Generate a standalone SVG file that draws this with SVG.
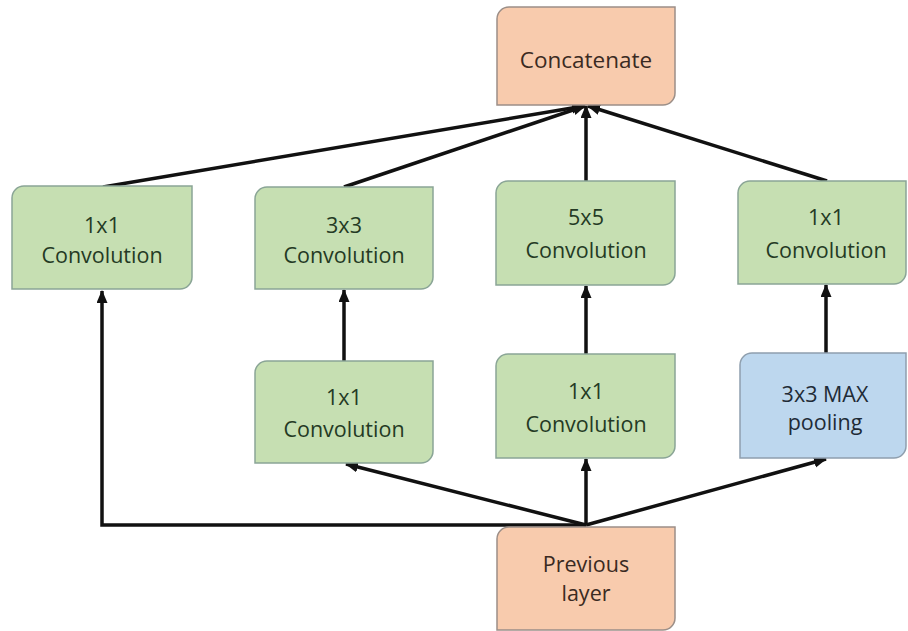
<svg xmlns="http://www.w3.org/2000/svg" width="908" height="631" viewBox="0 0 908 631">
<defs>
<style>
.box{stroke-width:1.5}
.g{fill:#c6dfb2;stroke:#8aa596}
.o{fill:#f8cbad;stroke:#9c8f88}
.b{fill:#bdd7ee;stroke:#8f9fae}
text{font-family:"Open Sans","Liberation Sans",sans-serif;font-size:21.5px;text-anchor:middle}
.tg{fill:#243a24}
.to{fill:#3a2a22}
.tb{fill:#1f2b36}
.c{fill:none;stroke:#111;stroke-width:3.5;marker-end:url(#ah)}
</style>
<marker id="ah" markerUnits="userSpaceOnUse" markerWidth="14" markerHeight="12" refX="12" refY="5.5" orient="auto">
<path d="M0,0 L13,5.5 L0,11 Z" fill="#111"/>
</marker>
</defs>
<rect width="908" height="631" fill="#ffffff"/>
<g id="connectors">
<path class="c" d="M586,525 H102 V291"/>
<path class="c" d="M586,525 L346,464"/>
<path class="c" d="M586,525 V459"/>
<path class="c" d="M586,525 L826,459"/>
<path class="c" d="M344,361 V290"/>
<path class="c" d="M586,354 V286"/>
<path class="c" d="M826,353 V285"/>
<path class="c" d="M103,187 L584,106"/>
<path class="c" d="M344,187 L585,106"/>
<path class="c" d="M586,181 V106"/>
<path class="c" d="M827,181 L588,106"/>
</g>
<g id="concat">
<path class="box o" d="M511,7 H675 V93 A12,12 0 0 1 663,105 H497 V19 A12,12 0 0 1 509,7 Z"/>
<text class="to" x="586" y="68" style="font-size:22.5px">Concatenate</text>
</g>
<g id="conv1x1_a">
<path class="box g" d="M24,186 H192 V277 A12,12 0 0 1 180,289 H12 V198 A12,12 0 0 1 24,186 Z"/>
<text class="tg" x="102" y="233">1x1</text>
<text class="tg" x="102" y="263">Convolution</text>
</g>
<g id="conv3x3">
<path class="box g" d="M267,187 H433 V277 A12,12 0 0 1 421,289 H255 V199 A12,12 0 0 1 267,187 Z"/>
<text class="tg" x="344" y="233">3x3</text>
<text class="tg" x="344" y="263">Convolution</text>
</g>
<g id="conv5x5">
<path class="box g" d="M508,181 H675 V273 A12,12 0 0 1 663,285 H496 V193 A12,12 0 0 1 508,181 Z"/>
<text class="tg" x="586" y="225">5x5</text>
<text class="tg" x="586" y="258">Convolution</text>
</g>
<g id="conv1x1_d">
<path class="box g" d="M750,181 H906 V272 A12,12 0 0 1 894,284 H738 V193 A12,12 0 0 1 750,181 Z"/>
<text class="tg" x="826" y="225">1x1</text>
<text class="tg" x="826" y="258">Convolution</text>
</g>
<g id="conv1x1_b">
<path class="box g" d="M267,361 H433 V451 A12,12 0 0 1 421,463 H255 V373 A12,12 0 0 1 267,361 Z"/>
<text class="tg" x="344" y="405">1x1</text>
<text class="tg" x="344" y="437">Convolution</text>
</g>
<g id="conv1x1_c">
<path class="box g" d="M508,354 H675 V446 A12,12 0 0 1 663,458 H496 V366 A12,12 0 0 1 508,354 Z"/>
<text class="tg" x="586" y="399">1x1</text>
<text class="tg" x="586" y="432">Convolution</text>
</g>
<g id="maxpool">
<path class="box b" d="M752,353 H906 V446 A12,12 0 0 1 894,458 H740 V365 A12,12 0 0 1 752,353 Z"/>
<text class="tb" x="825" y="402">3x3 MAX</text>
<text class="tb" x="825" y="430">pooling</text>
</g>
<g id="previous">
<path class="box o" d="M509,527 H675 V618 A12,12 0 0 1 663,630 H497 V539 A12,12 0 0 1 509,527 Z"/>
<text class="to" x="586" y="572">Previous</text>
<text class="to" x="586" y="601">layer</text>
</g>
</svg>
